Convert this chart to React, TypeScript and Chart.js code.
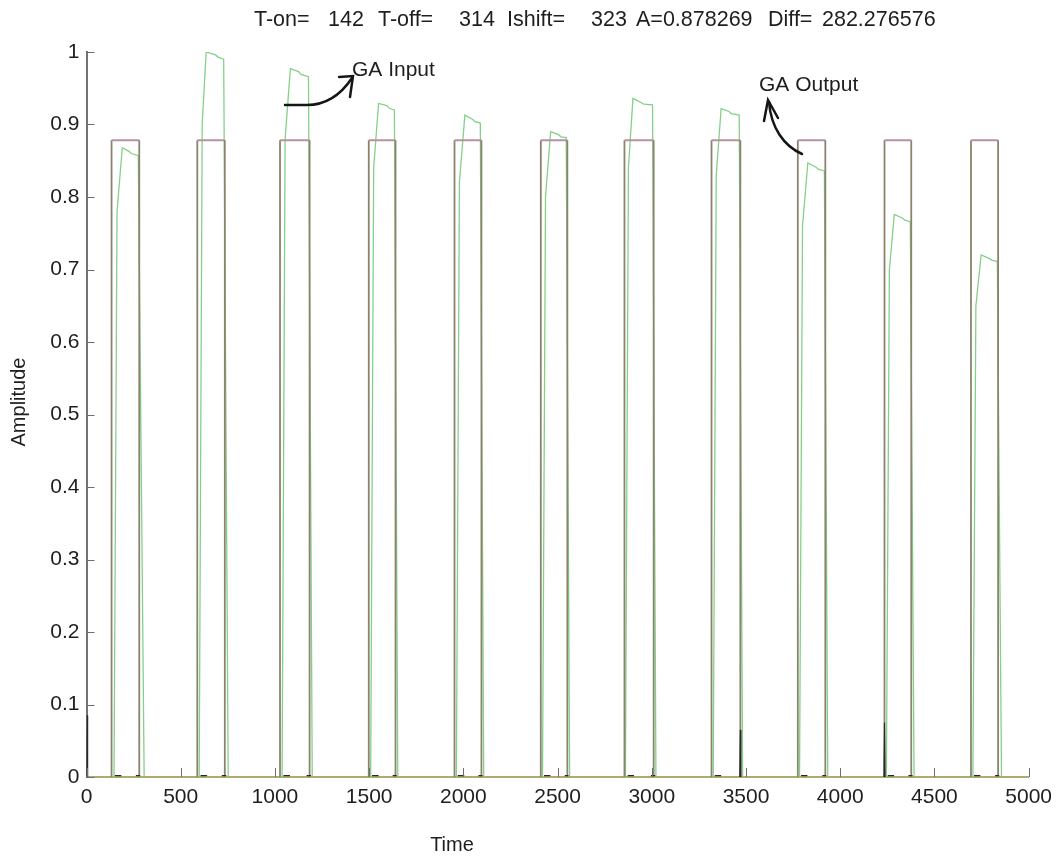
import React, { useEffect, useRef } from "react";
import { Chart, registerables } from "chart.js";

Chart.register(...registerables);

// ---------- text ----------
const TITLE_PARTS = ["T-on=", "142", "T-off=", "314", "Ishift=", "323", "A=0.878269", "Diff=", "282.276576"];
const TITLE_X = [254, 328, 378, 459, 507, 591, 636, 768, 822];
const X_LABEL = "Time";
const Y_LABEL = "Amplitude";
const NOTE_INPUT = "GA Input";
const NOTE_OUTPUT = "GA Output";

// ---------- ticks ----------
const xTickValues = [0, 500, 1000, 1500, 2000, 2500, 3000, 3500, 4000, 4500, 5000];
const xTickLabels = ["0", "500", "1000", "1500", "2000", "2500", "3000", "3500", "4000", "4500", "5000"];
const yTickValues = [0, 0.1, 0.2, 0.3, 0.4, 0.5, 0.6, 0.7, 0.8, 0.9, 1];
const yTickLabels = ["0", "0.1", "0.2", "0.3", "0.4", "0.5", "0.6", "0.7", "0.8", "0.9", "1"];

// ---------- GA output (rectangular pulses) ----------
const outStart = [133, 588, 1027, 1498, 1953, 2411, 2855, 3317, 3775, 4235, 4694];
const outEnd = [280, 734, 1184, 1640, 2096, 2552, 3010, 3470, 3921, 4377, 4838];
const outAmp = 0.878269;

// ---------- GA input (measured pulses) ----------
const inRiseT = [146, 598, 1038, 1508, 1963, 2420, 2860, 3326, 3784, 4245, 4704];
const inKneeT = [162, 614, 1054, 1524, 1979, 2436, 2876, 3342, 3800, 4261, 4720];
const inKneeV = [0.78, 0.9, 0.88, 0.84, 0.82, 0.8, 0.84, 0.83, 0.76, 0.7, 0.65];
const inPeakT = [190, 635, 1082, 1550, 2008, 2463, 2900, 3368, 3828, 4287, 4748];
const inPeakV = [0.868, 1.0, 0.977, 0.929, 0.913, 0.89, 0.936, 0.922, 0.847, 0.776, 0.72];
const inShoulderT = [225, 685, 1125, 1595, 2050, 2505, 2945, 3410, 3872, 4330, 4792];
const inShoulderV = [0.863, 0.996, 0.973, 0.926, 0.907, 0.886, 0.93, 0.918, 0.841, 0.771, 0.715];
const inNotchT = [238, 698, 1138, 1608, 2062, 2518, 2958, 3422, 3885, 4343, 4805];
const inNotchV = [0.86, 0.993, 0.969, 0.922, 0.904, 0.883, 0.928, 0.915, 0.838, 0.768, 0.713];
const inEndT = [275, 728, 1178, 1634, 2090, 2546, 3004, 3464, 3916, 4372, 4834];
const inEndV = [0.857, 0.99, 0.966, 0.92, 0.902, 0.882, 0.927, 0.913, 0.836, 0.766, 0.711];
const inFallT = [306, 752, 1198, 1652, 2108, 2564, 3022, 3482, 3934, 4392, 4856];

// ---------- error trace (black, near zero) ----------
const errSpikeT = [3, 3470, 4235];
const errSpikeV = [0.085, 0.065, 0.075];
const errDashFrom = [150, 262, 605, 718, 1045, 1168, 1515, 1625, 1970, 2080, 2428, 2538, 2872, 2995, 3334, 3792, 3905, 4252, 4362, 4710, 4822];
const errDashTo = [185, 285, 640, 742, 1080, 1192, 1550, 1646, 2005, 2102, 2462, 2558, 2906, 3018, 3368, 3826, 3926, 4286, 4384, 4744, 4844];
const errDashV = 0.002;

// ---------- colours ----------
const OUT_TOP = "rgb(184,146,162)";
const OUT_EDGE = "rgb(138,132,108)";
const BASE = "rgb(172,172,112)";
const IN_COLOR = "rgb(132,208,136)";
const ERR_COLOR = "rgb(40,40,40)";
const FONT = 'Arial, "Liberation Sans", sans-serif';

function buildOutput() {
  const pts: { x: number; y: number }[] = [{ x: 0, y: 0 }];
  outStart.forEach((s, i) => {
    pts.push({ x: s, y: 0 }, { x: s, y: outAmp }, { x: outEnd[i], y: outAmp }, { x: outEnd[i], y: 0 });
  });
  pts.push({ x: 5000, y: 0 });
  return pts;
}

function buildInput() {
  const pts: { x: number; y: number }[] = [{ x: 0, y: 0 }];
  inRiseT.forEach((t, i) => {
    pts.push(
      { x: t, y: 0 },
      { x: inKneeT[i], y: inKneeV[i] },
      { x: inPeakT[i], y: inPeakV[i] },
      { x: inShoulderT[i], y: inShoulderV[i] },
      { x: inNotchT[i], y: inNotchV[i] },
      { x: inEndT[i], y: inEndV[i] },
      { x: inFallT[i], y: 0 }
    );
  });
  pts.push({ x: 5000, y: 0 });
  return pts;
}

function buildError() {
  const pts: { x: number; y: number | null }[] = [];
  errSpikeT.forEach((t, i) => {
    pts.push({ x: Math.max(0, t - 3), y: 0 }, { x: t, y: errSpikeV[i] }, { x: t + 3, y: 0 }, { x: t + 4, y: null });
  });
  errDashFrom.forEach((f, i) => {
    pts.push({ x: f, y: errDashV }, { x: errDashTo[i], y: errDashV }, { x: errDashTo[i] + 1, y: null });
  });
  return pts;
}

const overlayPlugin = {
  id: "overlay",
  afterDraw(chart: any) {
    const { ctx, chartArea, scales } = chart;
    const xs = scales.x;
    const ys = scales.y;
    ctx.save();
    // inward tick marks
    ctx.strokeStyle = "rgb(110,110,110)";
    ctx.lineWidth = 1;
    yTickValues.forEach((v) => {
      const y = Math.round(ys.getPixelForValue(v)) + 0.5;
      ctx.beginPath();
      ctx.moveTo(chartArea.left, y);
      ctx.lineTo(chartArea.left + 8, y);
      ctx.stroke();
    });
    xTickValues.forEach((v) => {
      const x = Math.round(xs.getPixelForValue(v)) + 0.5;
      ctx.beginPath();
      ctx.moveTo(x, chartArea.bottom);
      ctx.lineTo(x, chartArea.bottom - 9);
      ctx.stroke();
    });

    // texts
    ctx.fillStyle = "#1e1e1e";
    ctx.font = `21.5px ${FONT}`;
    ctx.textBaseline = "middle";
    ctx.textAlign = "left";
    TITLE_PARTS.forEach((p, i) => ctx.fillText(p, TITLE_X[i], 20));
    ctx.font = `21px ${FONT}`;
    ctx.fillText(NOTE_INPUT, 352, 70);
    ctx.fillText(NOTE_OUTPUT, 759, 85);
    ctx.textAlign = "center";
    ctx.font = `20px ${FONT}`;
    ctx.fillText(X_LABEL, 452, 845);
    ctx.save();
    ctx.translate(19, 402);
    ctx.rotate(-Math.PI / 2);
    ctx.fillText(Y_LABEL, 0, 0);
    ctx.restore();

    // arrows
    ctx.strokeStyle = "#151515";
    ctx.lineWidth = 2.5;
    ctx.lineCap = "round";
    ctx.beginPath();
    ctx.moveTo(285, 105);
    ctx.lineTo(307, 105);
    ctx.bezierCurveTo(325, 105, 340, 96, 352, 78);
    ctx.stroke();
    ctx.beginPath();
    ctx.moveTo(339, 77);
    ctx.lineTo(353, 76);
    ctx.lineTo(350, 97);
    ctx.stroke();

    ctx.beginPath();
    ctx.moveTo(802, 154);
    ctx.bezierCurveTo(784, 146, 771, 128, 769, 102);
    ctx.stroke();
    ctx.beginPath();
    ctx.moveTo(764, 121);
    ctx.lineTo(768, 100);
    ctx.lineTo(778, 118);
    ctx.stroke();
    ctx.restore();
  },
};

export default function App() {
  const ref = useRef<HTMLCanvasElement | null>(null);
  useEffect(() => {
    if (!ref.current) return;
    Chart.defaults.font.family = FONT;
    const chart = new Chart(ref.current, {
      type: "line",
      data: {
        datasets: [
          {
            label: "Error",
            data: buildError() as any,
            borderColor: ERR_COLOR,
            borderWidth: 1.2,
            pointRadius: 0,
            spanGaps: false,
          },
          {
            label: "GA Output",
            data: buildOutput(),
            borderColor: OUT_TOP,
            borderWidth: 1.8,
            pointRadius: 0,
            segment: {
              borderColor: (c: any) => {
                const a = c.p0.parsed;
                const b = c.p1.parsed;
                if (a.x === b.x) return OUT_EDGE;
                if (a.y === 0 && b.y === 0) return BASE;
                return OUT_TOP;
              },
            },
          },
          {
            label: "GA Input",
            data: buildInput(),
            borderColor: IN_COLOR,
            borderWidth: 1.3,
            pointRadius: 0,
          },
        ],
      },
      options: {
        animation: false,
        responsive: false,
        events: [],
        layout: { padding: { left: 0, top: 52, right: 29.5, bottom: 0 } },
        plugins: { legend: { display: false }, tooltip: { enabled: false }, title: { display: false } },
        scales: {
          x: {
            type: "linear",
            min: 0,
            max: 5000,
            afterFit: (s: any) => {
              s.height = 79;
            },
            afterBuildTicks: (s: any) => {
              s.ticks = xTickValues.map((v) => ({ value: v }));
            },
            ticks: {
              padding: 8,
              color: "#1e1e1e",
              font: { size: 21 },
              maxRotation: 0,
              autoSkip: false,
              callback: (_v: any, i: number) => xTickLabels[i],
            },
            grid: { display: false, drawTicks: false },
            border: { display: true, color: BASE, width: 2 },
          },
          y: {
            type: "linear",
            min: 0,
            max: 1,
            afterFit: (s: any) => {
              s.width = 86.5;
            },
            afterBuildTicks: (s: any) => {
              s.ticks = yTickValues.map((v) => ({ value: v }));
            },
            ticks: {
              padding: 7,
              color: "#1e1e1e",
              font: { size: 21 },
              autoSkip: false,
              callback: (_v: any, i: number) => yTickLabels[i],
            },
            grid: { display: false, drawTicks: false },
            border: { display: true, color: "rgb(115,115,115)", width: 2 },
          },
        },
      },
      plugins: [overlayPlugin],
    });
    return () => chart.destroy();
  }, []);

  return (
    <div style={{ position: "fixed", left: 0, top: 0, width: 1060, height: 856, background: "#fff" }}>
      <canvas ref={ref} width={1060} height={856} style={{ display: "block" }} />
    </div>
  );
}
